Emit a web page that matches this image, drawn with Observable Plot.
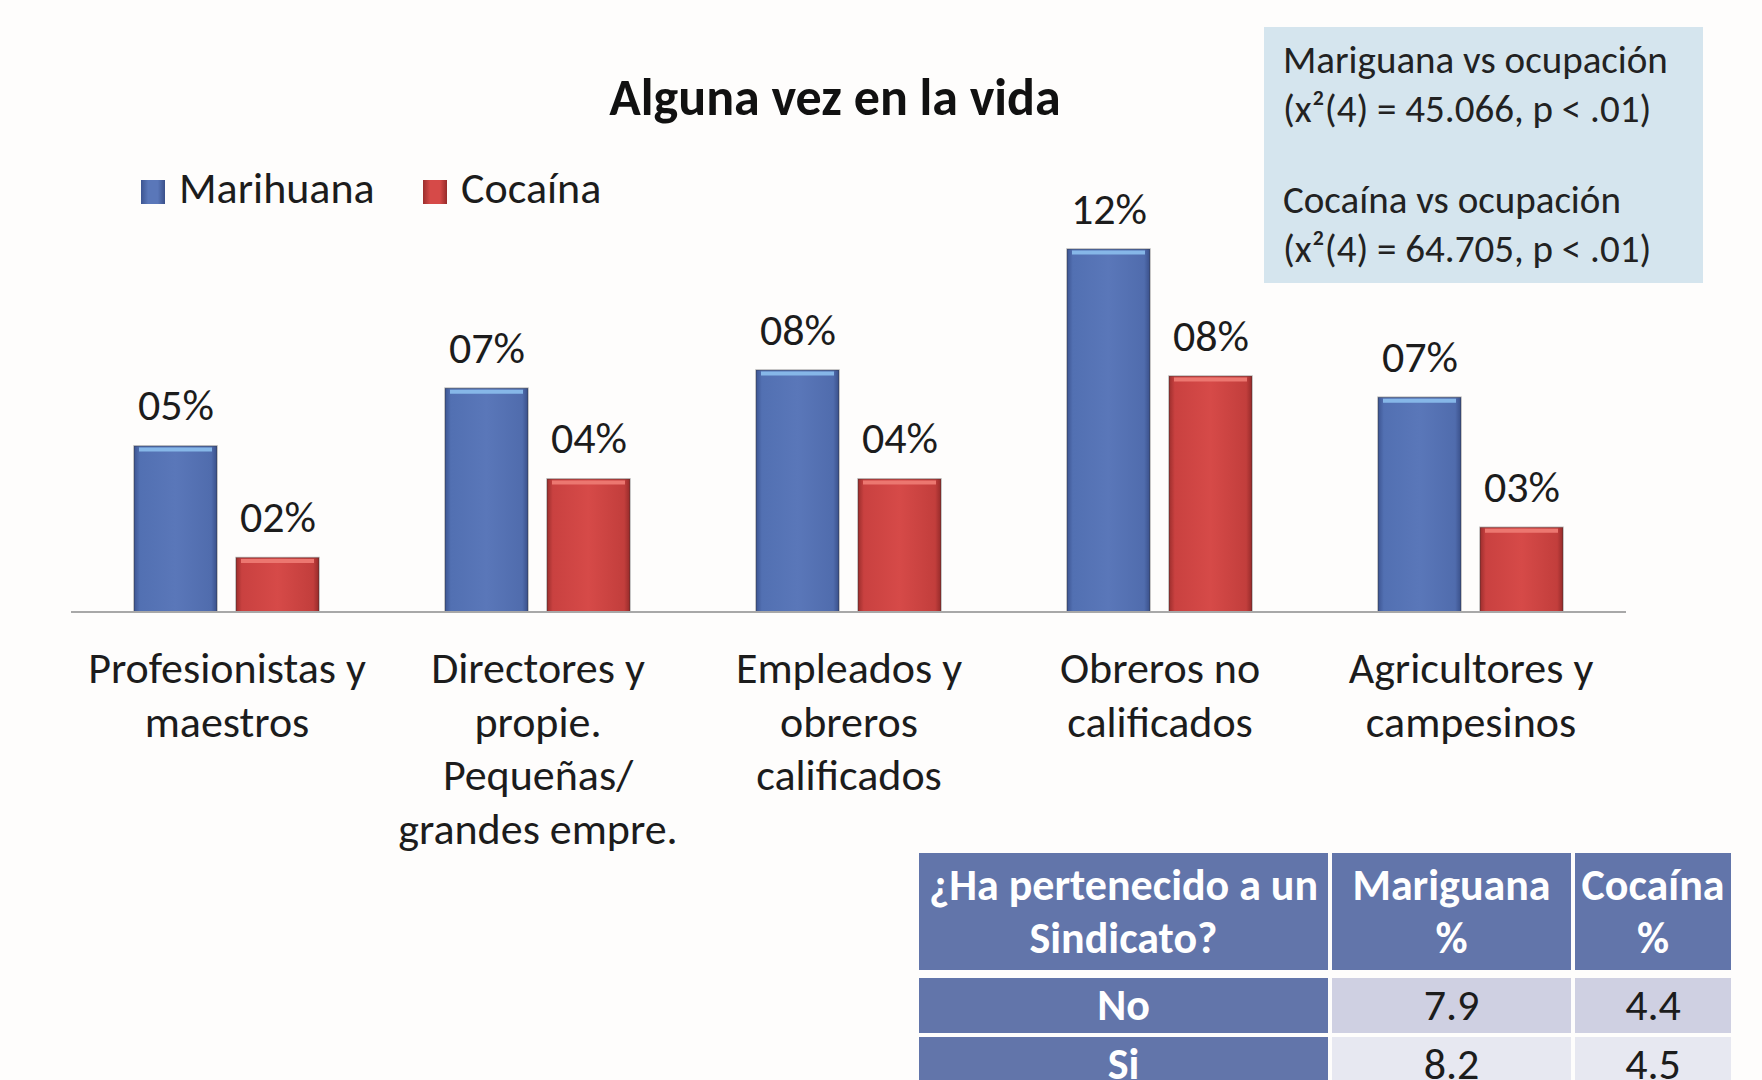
<!DOCTYPE html>
<html>
<head>
<meta charset="utf-8">
<script src="https://cdn.jsdelivr.net/npm/d3@7"></script>
<script src="https://cdn.jsdelivr.net/npm/@observablehq/plot@0.6"></script>
<style>
  body { margin: 0; background: #fefdfc; }
  #page { position: relative; width: 1762px; height: 1080px; overflow: hidden; font-family: Carlito, Calibri, Lato, sans-serif; color: #1c1c1c; }
  #chart { position: absolute; left: 0; top: 0; }
  .title { position: absolute; left: 435px; width: 800px; top: 71px; text-align: center; font-weight: 700; font-size: 52px; line-height: 52px; color: #111; }
  .legend { position: absolute; top: 166px; font-size: 44px; line-height: 44px; white-space: nowrap; }
  .sw { position: absolute; width: 24px; height: 24px; }
  .box { position: absolute; left: 1264px; top: 27px; width: 439px; height: 256px; background: #d5e5ee; }
  .box div { position: absolute; left: 19px; font-size: 39px; line-height: 49px; white-space: nowrap; color: #222; }
  .grid { position: absolute; left: 919px; top: 853px; display: grid; grid-template-columns: 409px 239px 156px; column-gap: 4px; row-gap: 4px; grid-template-rows: 121px 55px 55px; }
  .cell { display: flex; align-items: center; justify-content: center; text-align: center; font-size: 44px; line-height: 53px; }
  .head { background: #6275aa; color: #fff; font-weight: 700; }
  .hdr { height: 117px; }
</style>
</head>
<body>
<div id="page">
  <div id="chart"></div>
</div>
<script>
// ---- data ----
const categories = [
  "Profesionistas y\nmaestros",
  "Directores y\npropie.\nPequeñas/\ngrandes empre.",
  "Empleados y\nobreros\ncalificados",
  "Obreros no\ncalificados",
  "Agricultores y\ncampesinos"
];
const series = ["Marihuana", "Cocaína"];
const marihuana = [5.49, 7.4, 8.0, 12.0, 7.1];
const cocaina = [1.8, 4.4, 4.4, 7.8, 2.8];
const chartTitle = "Alguna vez en la vida";
const statLines = [
  ["Mariguana vs ocupación", "(x²(4) = 45.066, p < .01)"],
  ["Cocaína vs ocupación", "(x²(4) = 64.705, p < .01)"]
];
const tableHeader = ["¿Ha pertenecido a un\nSindicato?", "Mariguana\n%", "Cocaína\n%"];
const tableRows = ["No", "Si"];
const mariguanaSindicato = [7.9, 8.2];
const cocainaSindicato = [4.4, 4.5];

const seriesColors = ["url(#gradBlue)", "url(#gradRed)"];
const fontStack = "Carlito, Calibri, Lato, sans-serif";

const data = categories.flatMap((c, i) => [
  {cat: c, series: series[0], value: marihuana[i]},
  {cat: c, series: series[1], value: cocaina[i]}
]);
const fmt = d3.format("02.0f");

const plot = Plot.plot({
  width: 1762,
  height: 880,
  marginTop: 249,
  marginBottom: 268,
  marginLeft: 71,
  marginRight: 136,
  style: {background: "transparent", fontFamily: fontStack, color: "#1c1c1c"},
  fx: {domain: categories, paddingInner: 0.4, paddingOuter: 0.2, axis: null, label: null},
  x: {domain: series, paddingInner: 0.184, paddingOuter: 0, axis: null},
  y: {domain: [0, 12], axis: null},
  color: {domain: series, range: seriesColors},
  marks: [
    Plot.barY(data, {fx: "cat", x: "series", y: "value", fill: "series", stroke: "#2d2d2d", strokeOpacity: 0.35, strokeWidth: 1.5}),
    Plot.tickY(data, {fx: "cat", x: "series", y: "value", stroke: d => d.series === series[0] ? "#86b7e8" : "#ec7770", strokeWidth: 4, dy: 3, insetLeft: 5, insetRight: 5}),
    Plot.text(data, {fx: "cat", x: "series", y: "value", text: d => fmt(d.value) + "%", dy: -26, lineAnchor: "bottom", fontSize: 44, fill: "#1c1c1c"}),
    Plot.text(categories, {fx: d => d, text: d => d, frameAnchor: "bottom", lineAnchor: "top", dy: 33, fontSize: 44, lineHeight: 1.215, fill: "#1c1c1c"})
  ]
});

// gradients + continuous baseline
const svg = d3.select(plot);
const defs = svg.insert("defs", ":first-child");
const mk = (id, stops) => {
  const g = defs.append("linearGradient").attr("id", id).attr("x1", 0).attr("x2", 1).attr("y1", 0).attr("y2", 0);
  stops.forEach(([o, c]) => g.append("stop").attr("offset", o).attr("stop-color", c));
};
mk("gradBlue", [[0, "#3d5592"], [0.07, "#5270b2"], [0.5, "#5a77b9"], [0.93, "#506cad"], [1, "#3a508a"]]);
mk("gradRed", [[0, "#9c2e2d"], [0.07, "#c94140"], [0.5, "#d64a48"], [0.93, "#c23e3c"], [1, "#962b2a"]]);
const y0 = plot.scale("y").apply(0);
svg.append("line").attr("x1", 71).attr("x2", 1762 - 136).attr("y1", y0).attr("y2", y0)
  .attr("stroke", "#a8a8a8").attr("stroke-width", 2);
document.getElementById("chart").appendChild(plot);

// ---- HTML pieces ----
const page = d3.select("#page");
page.append("div").attr("class", "title").text(chartTitle);

const legendPos = [{sw: 141, tx: 179}, {sw: 423, tx: 461}];
const legendBg = ["linear-gradient(90deg,#3d5592,#5a77b9 30%,#5a77b9 70%,#3a508a)", "linear-gradient(90deg,#9c2e2d,#d64a48 30%,#d64a48 70%,#962b2a)"];
series.forEach((s, i) => {
  page.append("div").attr("class", "sw").style("left", legendPos[i].sw + "px").style("top", "180px").style("background", legendBg[i]);
  page.append("div").attr("class", "legend").style("left", legendPos[i].tx + "px").text(s);
});

const box = page.append("div").attr("class", "box");
const boxTops = [8, 148];
statLines.forEach((ls, i) => {
  ls.forEach((l, j) => {
    box.append("div").style("top", (boxTops[i] + j * 49) + "px").text(l);
  });
});

const grid = page.append("div").attr("class", "grid");
tableHeader.forEach(h => {
  grid.append("div").attr("class", "cell head hdr").html(h.split("\n").join("<br>"));
});
tableRows.forEach((r, i) => {
  grid.append("div").attr("class", "cell head").text(r);
  grid.append("div").attr("class", "cell").style("background", i === 0 ? "#cfd0e2" : "#e7e8f1").text(mariguanaSindicato[i].toFixed(1));
  grid.append("div").attr("class", "cell").style("background", i === 0 ? "#cfd0e2" : "#e7e8f1").text(cocainaSindicato[i].toFixed(1));
});
</script>
</body>
</html>
